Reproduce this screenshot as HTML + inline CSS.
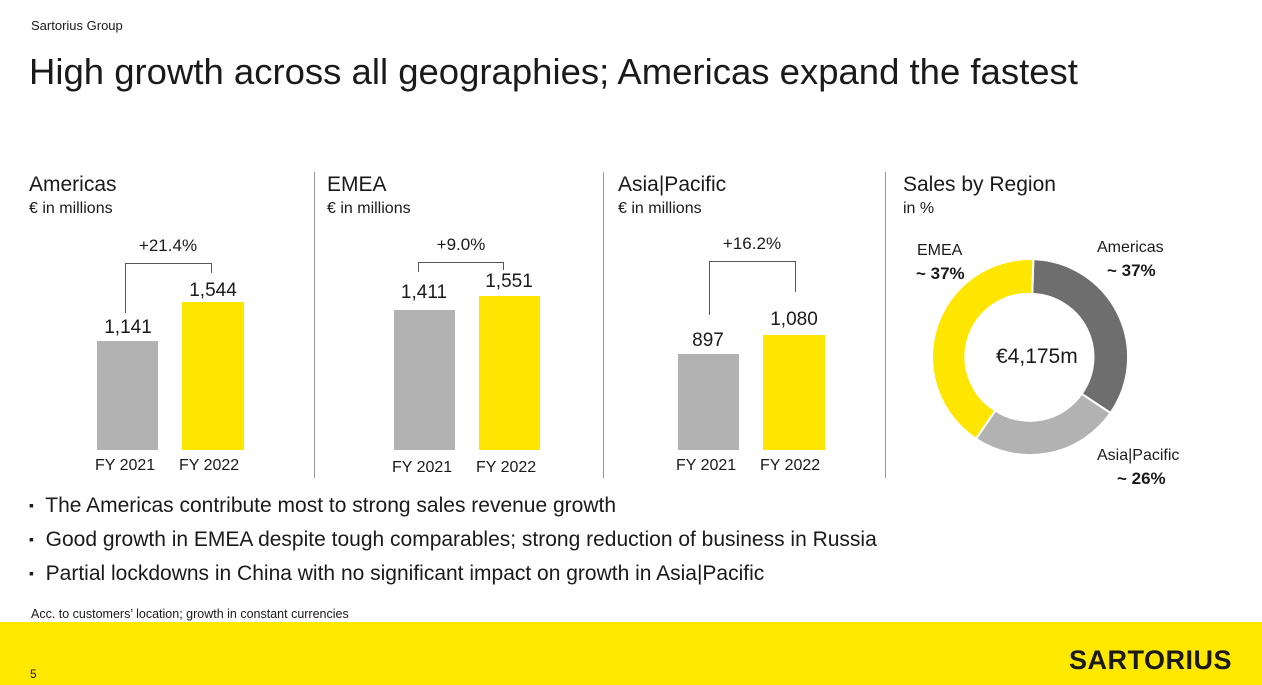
<!DOCTYPE html>
<html><head><meta charset="utf-8"><style>
body{margin:0;width:1262px;height:685px;position:relative;background:#fff;font-family:"Liberation Sans",sans-serif;color:#1a1a1a;overflow:hidden}
.a{position:absolute;white-space:nowrap}
.bar{position:absolute}
.g{background:#b2b2b2}.y{background:#ffe600}
.ln{position:absolute;background:#555}
.t{font-size:21px}
.s{font-size:16px}
.v{font-size:19px;transform:translateX(-50%)}
.p{font-size:17px;transform:translateX(-50%)}
.x{font-size:16px}
.b{font-size:21px}
</style></head><body>
<div class="a" style="left:31px;top:18px;font-size:13px">Sartorius Group</div>
<div class="a" style="left:29px;top:51px;font-size:36.5px">High growth across all geographies; Americas expand the fastest</div>

<div class="a t" style="left:29px;top:173px">Americas</div>
<div class="a s" style="left:29px;top:200px">€ in millions</div>
<div class="a t" style="left:327px;top:173px">EMEA</div>
<div class="a s" style="left:327px;top:200px">€ in millions</div>
<div class="a t" style="left:618px;top:173px">Asia|Pacific</div>
<div class="a s" style="left:618px;top:200px">€ in millions</div>
<div class="a t" style="left:903px;top:173px">Sales by Region</div>
<div class="a s" style="left:903px;top:200px">in %</div>

<div class="ln" style="left:314px;top:172px;width:1px;height:306px;background:#999"></div>
<div class="ln" style="left:603px;top:172px;width:1px;height:306px;background:#999"></div>
<div class="ln" style="left:885px;top:172px;width:1px;height:306px;background:#999"></div>

<!-- Americas -->
<div class="bar g" style="left:97px;top:341px;width:61px;height:109px"></div>
<div class="bar y" style="left:182px;top:302px;width:62px;height:148px"></div>
<div class="a v" style="left:128px;top:317px">1,141</div>
<div class="a v" style="left:213px;top:280px">1,544</div>
<div class="ln" style="left:125px;top:263px;width:1px;height:50px"></div>
<div class="ln" style="left:125px;top:263px;width:87px;height:1px"></div>
<div class="ln" style="left:211px;top:263px;width:1px;height:10px"></div>
<div class="a p" style="left:168px;top:236px">+21.4%</div>
<div class="a x" style="left:95px;top:457px">FY 2021</div>
<div class="a x" style="left:179px;top:457px">FY 2022</div>

<!-- EMEA -->
<div class="bar g" style="left:394px;top:310px;width:61px;height:140px"></div>
<div class="bar y" style="left:479px;top:296px;width:61px;height:154px"></div>
<div class="a v" style="left:424px;top:282px">1,411</div>
<div class="a v" style="left:509px;top:271px">1,551</div>
<div class="ln" style="left:418px;top:262px;width:1px;height:10px"></div>
<div class="ln" style="left:418px;top:262px;width:86px;height:1px"></div>
<div class="ln" style="left:503px;top:262px;width:1px;height:8px"></div>
<div class="a p" style="left:461px;top:235px">+9.0%</div>
<div class="a x" style="left:392px;top:459px">FY 2021</div>
<div class="a x" style="left:476px;top:459px">FY 2022</div>

<!-- Asia -->
<div class="bar g" style="left:678px;top:354px;width:61px;height:96px"></div>
<div class="bar y" style="left:763px;top:335px;width:62px;height:115px"></div>
<div class="a v" style="left:708px;top:330px">897</div>
<div class="a v" style="left:794px;top:309px">1,080</div>
<div class="ln" style="left:709px;top:261px;width:1px;height:54px"></div>
<div class="ln" style="left:709px;top:261px;width:87px;height:1px"></div>
<div class="ln" style="left:795px;top:261px;width:1px;height:31px"></div>
<div class="a p" style="left:752px;top:234px">+16.2%</div>
<div class="a x" style="left:676px;top:457px">FY 2021</div>
<div class="a x" style="left:760px;top:457px">FY 2022</div>

<!-- Donut -->
<svg class="a" style="left:0;top:0" width="1262" height="685">
<g stroke="#fff" stroke-width="2">
<path d="M1033.4,259.1 A98,98 0 0 1 1110.5,413.0 L1081.6,393.8 A63,63 0 0 0 1032.2,294.0 Z" fill="#6e6e6e"/>
<path d="M1110.5,413.0 A98,98 0 0 1 976.0,438.8 L995.3,410.5 A63,63 0 0 0 1081.6,393.8 Z" fill="#b2b2b2"/>
<path d="M976.0,438.8 A98,98 0 0 1 1033.4,259.1 L1032.2,294.0 A63,63 0 0 0 995.3,410.5 Z" fill="#ffe600"/>
</g>
</svg>
<div class="a" style="left:996px;top:345px;font-size:21px">€4,175m</div>
<div class="a s" style="left:917px;top:242px">EMEA</div>
<div class="a" style="left:916px;top:264px;font-size:17px;font-weight:bold">~ 37%</div>
<div class="a s" style="left:1097px;top:239px">Americas</div>
<div class="a" style="left:1107px;top:261px;font-size:17px;font-weight:bold">~ 37%</div>
<div class="a s" style="left:1097px;top:447px">Asia|Pacific</div>
<div class="a" style="left:1117px;top:469px;font-size:17px;font-weight:bold">~ 26%</div>

<div class="a b" style="left:29px;top:494px"><span style="font-size:14px;vertical-align:2px">▪</span>&nbsp; The Americas contribute most to strong sales revenue growth</div>
<div class="a b" style="left:29px;top:528px"><span style="font-size:14px;vertical-align:2px">▪</span>&nbsp; Good growth in EMEA despite tough comparables; strong reduction of business in Russia</div>
<div class="a b" style="left:29px;top:562px"><span style="font-size:14px;vertical-align:2px">▪</span>&nbsp; Partial lockdowns in China with no significant impact on growth in Asia|Pacific</div>
<div class="a" style="left:31px;top:607px;font-size:12.5px">Acc. to customers’ location; growth in constant currencies</div>

<div style="position:absolute;left:0;top:622px;width:1262px;height:63px;background:#ffe800"></div>
<div class="a" style="left:30px;top:667px;font-size:12px">5</div>
<div class="a" style="left:1069px;top:645px;font-size:27px;font-weight:bold;letter-spacing:0.5px">SARTORIUS</div>
</body></html>
